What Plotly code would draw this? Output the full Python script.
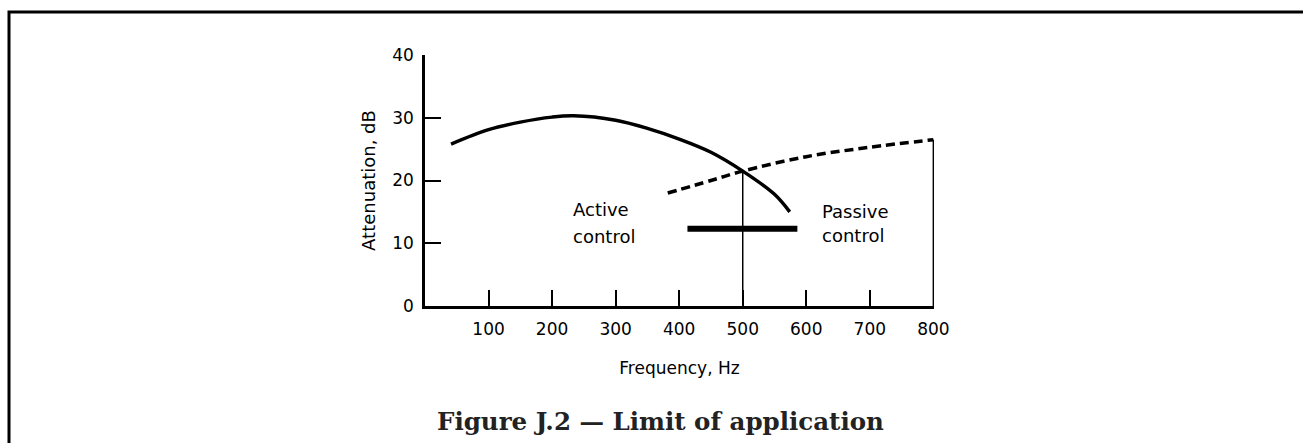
import plotly.graph_objects as go

# ---- data ----
active_freq = [41, 100, 150, 200, 234, 300, 350, 400, 450, 500, 550, 574]
active_att = [25.8, 28.1, 29.3, 30.1, 30.3, 29.6, 28.3, 26.6, 24.5, 21.5, 17.8, 15.0]

passive_freq = [382, 450, 500, 600, 700, 800]
passive_att = [18.0, 20.0, 21.5, 23.8, 25.3, 26.5]

limit_band_freq = [413, 586]
limit_band_att = [12.3, 12.3]

crossover_freq = [500, 500]
crossover_att = [0, 21.5]

edge_freq = [800, 800]
edge_att = [0, 26.5]

x_ticks = [100, 200, 300, 400, 500, 600, 700, 800]
y_ticks = [0, 10, 20, 30, 40]

labels_text = ["Active", "control", "Passive", "control"]
labels_freq = [229, 229, 621, 621]
labels_att = [15.4, 11.1, 15.1, 11.2]

caption = "Figure J.2 \u2014 Limit of application"

# ---- layout geometry ----
W, H = 1303, 443
L, R, T, B = 425, 369, 55, 137
PW = W - L - R
PH = H - T - B


def px_x(p):
    return (p - L) / PW


def px_y(p):
    return (H - B - p) / PH


font_main = "DejaVu Sans"

fig = go.Figure()

fig.add_trace(go.Scatter(x=active_freq, y=active_att, mode="lines",
                         line=dict(color="black", width=3.5, shape="spline", smoothing=1.0),
                         hoverinfo="skip"))
fig.add_trace(go.Scatter(x=passive_freq, y=passive_att, mode="lines",
                         line=dict(color="black", width=3.5, dash="9px,5px", shape="spline"),
                         hoverinfo="skip"))
fig.add_trace(go.Scatter(x=limit_band_freq, y=limit_band_att, mode="lines",
                         line=dict(color="black", width=6), hoverinfo="skip"))
fig.add_trace(go.Scatter(x=crossover_freq, y=crossover_att, mode="lines",
                         line=dict(color="black", width=1.5), hoverinfo="skip"))
fig.add_trace(go.Scatter(x=edge_freq, y=edge_att, mode="lines",
                         line=dict(color="black", width=1.5), hoverinfo="skip"))

for t, fx, fy in zip(labels_text, labels_freq, labels_att):
    fig.add_annotation(x=fx, y=fy, text=t, showarrow=False, xanchor="left", yanchor="middle",
                       font=dict(family=font_main, size=18, color="black"))

fig.add_annotation(xref="paper", yref="paper", x=px_x(660), y=px_y(421), text="<b>" + caption + "</b>",
                   showarrow=False, xanchor="center", yanchor="middle",
                   font=dict(family="DejaVu Serif", size=24.5, color="#222"))

# outer frame (only top and left edges visible in the window)
fig.add_shape(type="rect", xref="paper", yref="paper",
              x0=px_x(9), x1=px_x(1320), y0=px_y(12), y1=px_y(460),
              line=dict(color="black", width=3))

fig.update_layout(
    width=W, height=H,
    margin=dict(l=L, r=R, t=T, b=B, pad=0),
    paper_bgcolor="white", plot_bgcolor="white",
    showlegend=False,
    xaxis=dict(range=[0, 801], tickvals=x_ticks, ticktext=[str(v) for v in x_ticks],
               showline=True, linecolor="black", linewidth=2.5,
               ticks="inside", ticklen=16, tickwidth=1.5, tickcolor="black",
               ticklabelstandoff=6,
               showgrid=False, zeroline=False,
               tickfont=dict(family=font_main, size=17, color="black"),
               title=dict(text="Frequency, Hz", standoff=24,
                          font=dict(family=font_main, size=17, color="black"))),
    yaxis=dict(range=[0, 40], tickvals=y_ticks, ticktext=[str(v) for v in y_ticks],
               showline=True, linecolor="black", linewidth=2.5,
               ticks="inside", ticklen=16, tickwidth=1.5, tickcolor="black",
               ticklabelstandoff=5,
               showgrid=False, zeroline=False,
               tickfont=dict(family=font_main, size=17, color="black"),
               title=dict(text="Attenuation, dB", standoff=12,
                          font=dict(family=font_main, size=18, color="black"))),
)

fig.write_html("out.html")
